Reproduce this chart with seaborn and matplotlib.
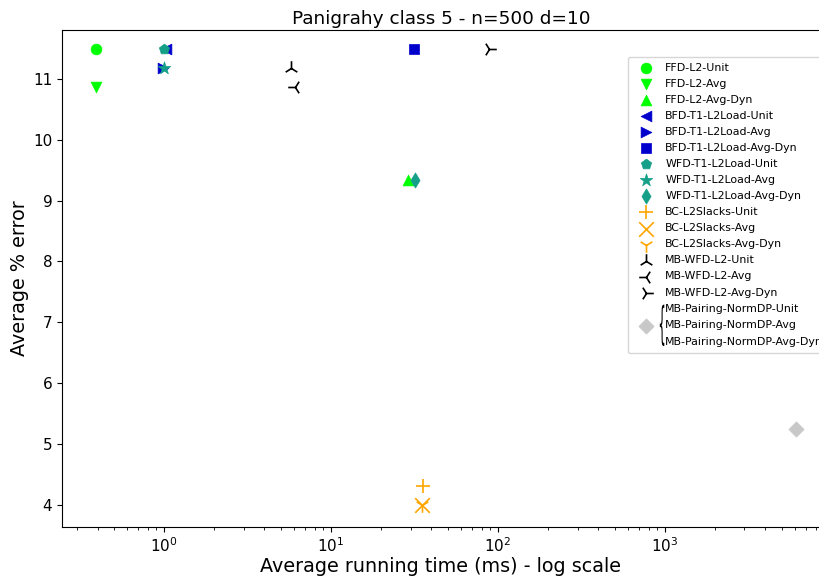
import matplotlib
matplotlib.use("Agg")
import matplotlib.pyplot as plt
import seaborn as sns
from matplotlib.textpath import TextPath
from matplotlib.patches import PathPatch
from matplotlib.font_manager import FontProperties
from matplotlib.transforms import Affine2D

# values
labels = ["FFD-L2-Unit", "FFD-L2-Avg", "FFD-L2-Avg-Dyn",
          "BFD-T1-L2Load-Unit", "BFD-T1-L2Load-Avg", "BFD-T1-L2Load-Avg-Dyn",
          "WFD-T1-L2Load-Unit", "WFD-T1-L2Load-Avg", "WFD-T1-L2Load-Avg-Dyn",
          "BC-L2Slacks-Unit", "BC-L2Slacks-Avg", "BC-L2Slacks-Avg-Dyn",
          "MB-WFD-L2-Unit", "MB-WFD-L2-Avg", "MB-WFD-L2-Avg-Dyn",
          "MB-Pairing-NormDP-Unit\nMB-Pairing-NormDP-Avg\nMB-Pairing-NormDP-Avg-Dyn"]
run_time_ms = [0.39, 0.39, 29.0,
               1.03, 0.98, 31.5,
               1.0, 1.0, 32.0,
               35.5, 35.0, 35.0,
               5.75, 6.1, 88.0,
               6100.0]
avg_error = [11.48, 10.87, 9.34,
             11.48, 11.18, 11.48,
             11.48, 11.18, 9.34,
             4.31, 4.0, 4.0,
             11.18, 10.87, 11.48,
             5.25]

markers = ["o", "v", "^", "<", ">", "s", "p", "*", "d",
           "+", "x", "1", "2", "3", "4", "D"]
teal = "#14a088"
colors = ["#00ff00"] * 3 + ["#0000cd"] * 3 + [teal] * 3 + ["orange"] * 3 + ["black"] * 3 + ["#c8c8c8"]

sns.set_style("ticks", {"text.color": "black", "axes.labelcolor": "black",
                        "xtick.color": "black", "ytick.color": "black",
                        "axes.edgecolor": "black"})
fig = plt.figure(figsize=(8.2, 5.77), dpi=100)
ax = fig.add_axes([62 / 820, 1 - 527 / 577, 1 - 62 / 820, (527 - 30) / 577])

for lab, x, y, m, c in zip(labels, run_time_ms, avg_error, markers, colors):
    unfilled = m in ["+", "x", "1", "2", "3", "4"]
    size = 110 if unfilled else 60
    if m == "*":
        size = 90
    if unfilled:
        sns.scatterplot(x=[x], y=[y], marker=m, color=c, s=size, linewidth=1.2,
                        label=lab, ax=ax)
    else:
        sns.scatterplot(x=[x], y=[y], marker=m, color=c, s=size, edgecolor=c,
                        linewidth=0.5, label=lab, ax=ax)

ax.set_xscale("log")
ax.set_xlim(0.245, 8500)
ax.set_ylim(3.64, 11.8)
ax.set_yticks([4, 5, 6, 7, 8, 9, 10, 11])
ax.tick_params(labelsize=11)
ax.set_title("Panigrahy class 5 - n=500 d=10", fontsize=13.3, pad=4)
ax.set_xlabel("Average running time (ms) - log scale", fontsize=13.8, labelpad=1)
ax.set_ylabel("Average % error", fontsize=13.8, labelpad=3)

leg = ax.legend(loc="upper left", bbox_to_anchor=(628 / 820, 1 - 57 / 577),
                bbox_transform=fig.transFigure, fontsize=7.9, frameon=True,
                labelspacing=0.55, handletextpad=0.75, handlelength=2.1,
                borderpad=0.55, borderaxespad=0)
leg.get_texts()[-1].set_linespacing(1.85)

# thin brace grouping the three pairing variants
fig.canvas.draw()
bb = leg.get_texts()[-1].get_window_extent()
tp = TextPath((0, 0), "{", size=1, prop=FontProperties(family="DejaVu Sans"))
ext = tp.get_extents()
h = bb.height * 0.95
w = 4.5
tr = (Affine2D().translate(-ext.x0, -ext.y0)
      .scale(w / ext.width, h / ext.height)
      .translate(bb.x0 - w - 1, (bb.y0 + bb.y1) / 2 - h / 2))
brace = PathPatch(tr.transform_path(tp), facecolor="black", edgecolor="none",
                  transform=None)
fig.patches.append(brace)

fig.savefig("out.png", dpi=100)
